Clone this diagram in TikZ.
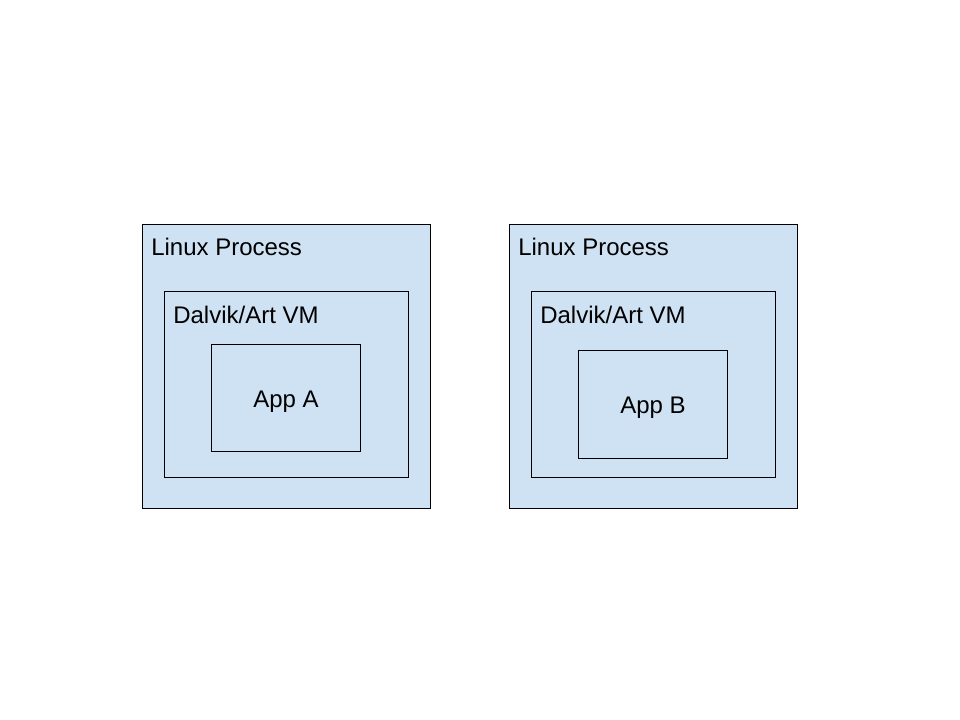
\documentclass[tikz,border=0pt]{standalone}
\usepackage{fontspec}
\setmainfont{Liberation Sans}
\usepackage{tikz}
\definecolor{boxblue}{HTML}{CFE2F3}
\tikzstyle{procbox} = [draw=black, line width=0.75pt, rectangle, fill=boxblue, inner sep=0pt, anchor=north west]
\tikzstyle{boxlabel} = [inner sep=0pt, font=\fontsize{18}{21}\selectfont]

\begin{document}
\begin{tikzpicture}[x=0.75pt, y=-0.75pt]
\useasboundingbox (0,0) rectangle (960,720);
% left process
\node [procbox, minimum width=288*0.75pt, minimum height=284*0.75pt] (procA) at (142,224) {};
\node [procbox, minimum width=244*0.75pt, minimum height=186*0.75pt] (vmA) at (164,291) {};
\node [procbox, minimum width=149*0.75pt, minimum height=107*0.75pt] (appA) at (211,344) {};
\node [boxlabel, anchor=base west] (procAtxt) at (151,256) {Linux Process};
\node [boxlabel, anchor=base west] (vmAtxt) at (173,323) {Dalvik/Art VM};
\node [boxlabel, anchor=base] (appAtxt) at (286,407) {App A};
% right process
\node [procbox, minimum width=288*0.75pt, minimum height=284*0.75pt] (procB) at (509,224) {};
\node [procbox, minimum width=244*0.75pt, minimum height=186*0.75pt] (vmB) at (531,291) {};
\node [procbox, minimum width=149*0.75pt, minimum height=108*0.75pt] (appB) at (578,350) {};
\node [boxlabel, anchor=base west] (procBtxt) at (518,256) {Linux Process};
\node [boxlabel, anchor=base west] (vmBtxt) at (540,323) {Dalvik/Art VM};
\node [boxlabel, anchor=base] (appBtxt) at (653,413) {App B};
\end{tikzpicture}
\end{document}
